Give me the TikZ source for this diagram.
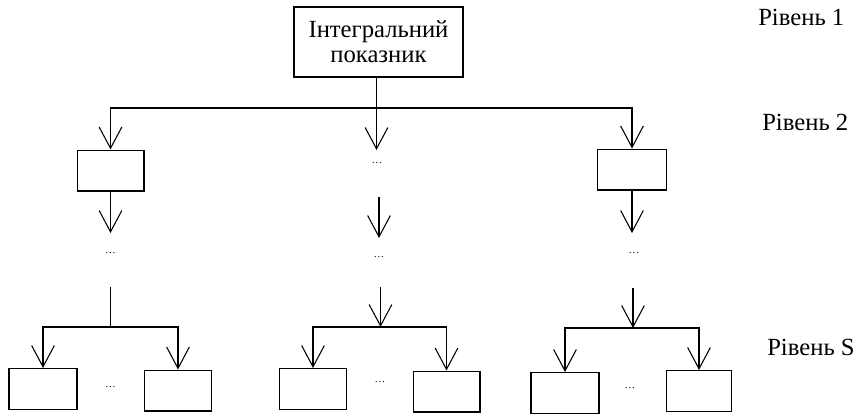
\documentclass[tikz,border=0pt]{standalone}
\usepackage{fontspec}
\setmainfont{Liberation Serif}
\usetikzlibrary{arrows.meta}

\tikzset{
	box/.style={draw, line width=1pt, minimum width=50pt, minimum height=30.5pt, inner sep=0pt},
	topbox/.style={draw, line width=1pt, minimum width=126.75pt, minimum height=52.5pt, align=center, inner sep=0pt, font=\fontsize{18.5}{19}\selectfont},
	gap/.style={inner sep=0pt, font=\fontsize{8}{9}\selectfont},
	lvl/.style={anchor=base west, inner sep=0pt, font=\fontsize{18.5}{19}\selectfont},
	link/.style={line width=1pt},
	arr/.style={line width=1pt, -{Straight Barb[length=16pt,width=17pt,line width=0.8pt]}}
}

\begin{document}
\begin{tikzpicture}[x=0.75pt,y=0.75pt,yscale=-1,xscale=1]
	\path (0,0) rectangle (857,414); %set diagram size
	
	% Level 1
	\node [topbox] (top) at (378.5,42) {Інтегральний\\показник};
	\coordinate (j1) at (376.5,108);
	\coordinate (a1m) at (376.5,150);
	
	% Level 2
	\node [box] (b2l) at (110.5,170.5) {};
	\node [box, minimum width=51.75pt] (b2r) at (632,169.5) {};
	\node [gap] (d2m) at (377,163) {\dots};
	\coordinate (s2m) at (379,197);
	\coordinate (a2l) at (110.5,233);
	\coordinate (a2m) at (379,238);
	\coordinate (a2r) at (632,233);
	\node [gap] (d3l) at (110.5,253) {\dots};
	\node [gap] (d3m) at (379,257) {\dots};
	\node [gap] (d3r) at (634,253) {\dots};
	
	% Level S
	\coordinate (s3l) at (110.5,287);
	\coordinate (j3l) at (110.5,327);
	\coordinate (s3m) at (380.5,287);
	\coordinate (j3m) at (380.5,327);
	\coordinate (s3r) at (633,288);
	\coordinate (j3r) at (633,328);
	\node [box, minimum width=51pt] (bl1) at (43,389) {};
	\node [box] (bl2) at (178,390.5) {};
	\node [box] (bm1) at (313,389) {};
	\node [box] (bm2) at (446.5,391.5) {};
	\node [box, minimum width=51pt] (br1) at (565,393) {};
	\node [box, minimum width=49pt] (br2) at (699,391) {};
	\node [gap] (d4l) at (110.5,387) {\dots};
	\node [gap] (d4m) at (380,382) {\dots};
	\node [gap] (d4r) at (630,388) {\dots};
	
	% Connectors
	\draw [link] (top.south -| j1) -- (j1);
	\draw [arr] (j1) -| (b2l);
	\draw [arr] (j1) -| (b2r);
	\draw [arr] (j1) -- (a1m);
	\draw [arr] (b2l) -- (a2l);
	\draw [arr] (s2m) -- (a2m);
	\draw [arr] (b2r) -- (a2r);
	
	\draw [link] (s3l) -- (j3l);
	\draw [arr] (j3l) -| (bl1);
	\draw [arr] (j3l) -| (bl2);
	\draw [arr] (s3m) -- (j3m);
	\draw [arr] (j3m) -| (bm1);
	\draw [arr] (j3m) -| (bm2);
	\draw [arr] (s3r) -- (j3r);
	\draw [arr] (j3r) -| (br1);
	\draw [arr] (j3r) -| (br2);
	
	% Text Node
	\node [lvl] (l1) at (758,25) {Рівень 1};
	\node [lvl] (l2) at (762,130) {Рівень 2};
	\node [lvl] (ls) at (767,355) {Рівень S};
	
\end{tikzpicture}
\end{document}
